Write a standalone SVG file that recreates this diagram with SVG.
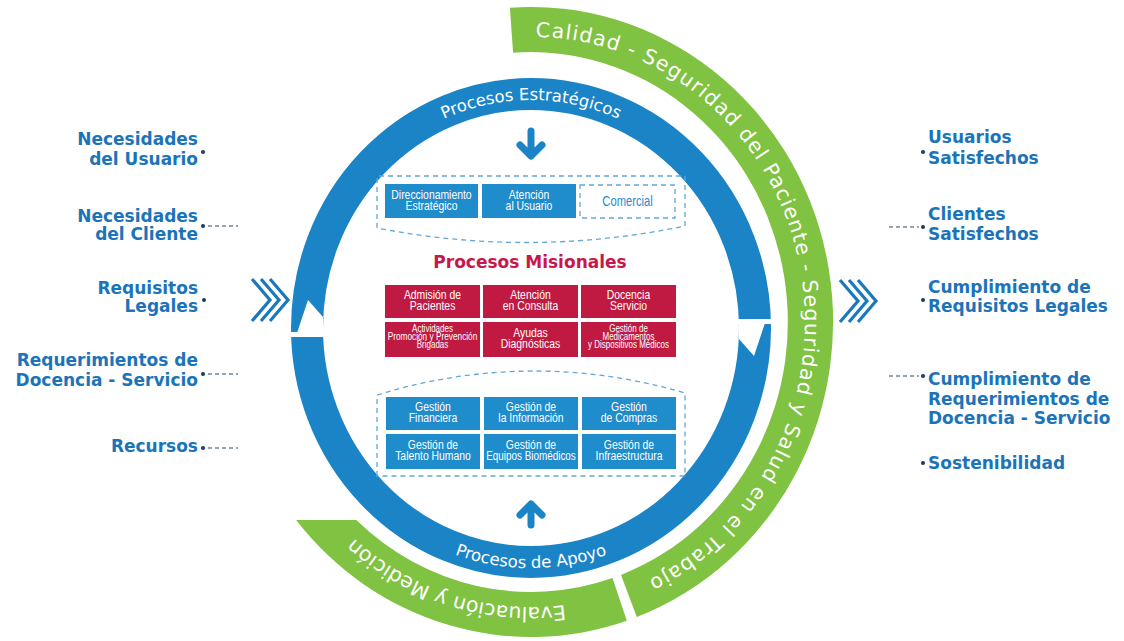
<svg xmlns="http://www.w3.org/2000/svg" width="1124" height="641" viewBox="0 0 1124 641">
<style>
.lbl{font-family:"DejaVu Sans","Liberation Sans",sans-serif;font-weight:bold;font-size:17px;fill:#1b74ba}
.lr{text-anchor:end}
.bx{font-family:"Liberation Sans",Arial,sans-serif;font-size:13px;fill:#fff;text-anchor:middle}
.sm{font-size:10px}
.blue{fill:#1f8ccc}
.red{fill:#c01a42}
.dash{fill:none;stroke:#5fa8d8;stroke-width:1.3;stroke-dasharray:5 4}
.ring{font-family:"DejaVu Sans","Liberation Sans",sans-serif;font-size:16.5px;fill:#fff}
.gt{font-family:"DejaVu Sans","Liberation Sans",sans-serif;font-size:20.5px;fill:#fff}
.dot{fill:#1d3a5c}
.lead{stroke:#2a4a6a;stroke-width:1.2;stroke-dasharray:4 3}
.chev{fill:none;stroke:#1a78bf;stroke-width:3.2}
.arr{fill:none;stroke:#1b84c7;stroke-width:7;stroke-linecap:round;stroke-linejoin:round}
</style>
<defs>
<path id="pTop" d="M342.2 214 A218 228 0 0 1 719.8 214"/>
<path id="pBot" d="M331.8 448 A230 240 0 0 0 730.2 448"/>
<path id="gBig" d="M535.7 37 A272 285 0 0 1 628 589"/>
<path id="gSmall" d="M606 596 A272 285 0 0 1 328.9 512.7"/>
</defs>
<rect width="1124" height="641" fill="#ffffff"/>

<g id="green-ring">
<path d="M509.9 7.8 A302 315 0 0 1 636.8 617.1 L621 574.9 A257 270 0 0 0 513.1 52.7 Z" fill="#80c241"/>
<path d="M626.8 620.7 A302 315 0 0 1 296.1 520 L356.3 520 A257 270 0 0 0 612.5 578 Z" fill="#80c241"/>
<text class="gt"><textPath href="#gBig" textLength="752" lengthAdjust="spacing">Calidad - Seguridad del Paciente - Seguridad y Salud en el Trabajo</textPath></text>
<text class="gt"><textPath href="#gSmall" startOffset="51%" text-anchor="middle">Evaluación y Medición</textPath></text>
</g>

<g id="blue-ring">
<ellipse cx="531" cy="328" rx="224" ry="234" fill="none" stroke="#1b84c7" stroke-width="32"/>
<rect x="284" y="332" width="46" height="5" fill="#fff"/>
<polygon points="297,333 308,300 323,317 323,333" fill="#fff"/>
<rect x="732" y="319" width="46" height="5" fill="#fff"/>
<polygon points="765,323 754,356 739,339 739,323" fill="#fff"/>
<text class="ring"><textPath href="#pTop" startOffset="50%" text-anchor="middle">Procesos Estratégicos</textPath></text>
<text class="ring"><textPath href="#pBot" startOffset="50%" text-anchor="middle">Procesos de Apoyo</textPath></text>
<path class="arr" d="M531 131 V155 M520 145 L531 156 L542 145"/>
<path class="arr" d="M531 525 V505 M520 515 L531 504 L542 515"/>
</g>

<g id="estrategicos">
<path class="dash" d="M377 228 V176 H685 V226 Q531 258 377 228"/>
<rect class="blue" x="385" y="184" width="93" height="34"/>
<g transform="translate(431.5 0) scale(0.8 1)"><text class="bx" x="0" y="199">Direccionamiento</text><text class="bx" x="0" y="210">Estratégico</text></g>
<rect class="blue" x="482" y="184" width="94" height="34"/>
<g transform="translate(529 0) scale(0.8 1)"><text class="bx" x="0" y="199">Atención</text><text class="bx" x="0" y="210">al Usuario</text></g>
<rect class="dash" x="580" y="185" width="95" height="33"/>
<g transform="translate(627.5 0) scale(0.8 1)"><text class="bx" x="0" y="206" style="fill:#1f8ccc;font-size:14px">Comercial</text></g>
</g>

<g id="misionales">
<text x="530" y="268" text-anchor="middle" style="font-family:'DejaVu Sans','Liberation Sans',sans-serif;font-weight:bold;font-size:17px;fill:#c8174b">Procesos Misionales</text>
<rect class="red" x="385" y="285" width="95" height="33"/>
<g transform="translate(432.5 0) scale(0.8 1)"><text class="bx" x="0" y="299">Admisión de</text><text class="bx" x="0" y="310">Pacientes</text></g>
<rect class="red" x="483" y="285" width="95" height="33"/>
<g transform="translate(530.5 0) scale(0.8 1)"><text class="bx" x="0" y="299">Atención</text><text class="bx" x="0" y="310">en Consulta</text></g>
<rect class="red" x="581" y="285" width="95" height="33"/>
<g transform="translate(628.5 0) scale(0.8 1)"><text class="bx" x="0" y="299">Docencia</text><text class="bx" x="0" y="310">Servicio</text></g>
<rect class="red" x="385" y="322" width="95" height="35"/>
<g transform="translate(432.5 0) scale(0.8 1)"><text class="bx sm" x="0" y="332">Actividades</text><text class="bx sm" x="0" y="340" textLength="112" lengthAdjust="spacingAndGlyphs">Promoción y Prevención</text><text class="bx sm" x="0" y="348">Brigadas</text></g>
<rect class="red" x="483" y="322" width="95" height="35"/>
<g transform="translate(530.5 0) scale(0.8 1)"><text class="bx" x="0" y="337">Ayudas</text><text class="bx" x="0" y="348">Diagnósticas</text></g>
<rect class="red" x="581" y="322" width="95" height="35"/>
<g transform="translate(628.5 0) scale(0.8 1)"><text class="bx sm" x="0" y="332">Gestión de</text><text class="bx sm" x="0" y="340">Medicamentos</text><text class="bx sm" x="0" y="348">y Dispositivos Médicos</text></g>
</g>

<g id="apoyo">
<path class="dash" d="M377 476 V395 Q531 348 685 393 V476 Z"/>
<rect class="blue" x="386" y="397" width="94" height="33"/>
<g transform="translate(433 0) scale(0.8 1)"><text class="bx" x="0" y="411">Gestión</text><text class="bx" x="0" y="422">Financiera</text></g>
<rect class="blue" x="484" y="397" width="94" height="33"/>
<g transform="translate(531 0) scale(0.8 1)"><text class="bx" x="0" y="411">Gestión de</text><text class="bx" x="0" y="422">la Información</text></g>
<rect class="blue" x="582" y="397" width="94" height="33"/>
<g transform="translate(629 0) scale(0.8 1)"><text class="bx" x="0" y="411">Gestión</text><text class="bx" x="0" y="422">de Compras</text></g>
<rect class="blue" x="386" y="434" width="94" height="35"/>
<g transform="translate(433 0) scale(0.8 1)"><text class="bx" x="0" y="449">Gestión de</text><text class="bx" x="0" y="460">Talento Humano</text></g>
<rect class="blue" x="484" y="434" width="94" height="35"/>
<g transform="translate(531 0) scale(0.8 1)"><text class="bx" x="0" y="449">Gestión de</text><text class="bx" x="0" y="460" textLength="112" lengthAdjust="spacingAndGlyphs">Equipos Biomédicos</text></g>
<rect class="blue" x="582" y="434" width="94" height="35"/>
<g transform="translate(629 0) scale(0.8 1)"><text class="bx" x="0" y="449">Gestión de</text><text class="bx" x="0" y="460">Infraestructura</text></g>
</g>

<g id="entradas">
<text class="lbl lr" x="198" y="145">Necesidades</text>
<text class="lbl lr" x="198" y="165">del Usuario</text>
<text class="lbl lr" x="198" y="222">Necesidades</text>
<text class="lbl lr" x="198" y="240">del Cliente</text>
<text class="lbl lr" x="198" y="294">Requisitos</text>
<text class="lbl lr" x="198" y="312">Legales</text>
<text class="lbl lr" x="198" y="366">Requerimientos de</text>
<text class="lbl lr" x="198" y="386">Docencia - Servicio</text>
<text class="lbl lr" x="198" y="452">Recursos</text>
</g>

<g id="salidas">
<text class="lbl" x="928" y="143">Usuarios</text>
<text class="lbl" x="928" y="164">Satisfechos</text>
<text class="lbl" x="928" y="220">Clientes</text>
<text class="lbl" x="928" y="240">Satisfechos</text>
<text class="lbl" x="928" y="293">Cumplimiento de</text>
<text class="lbl" x="928" y="312">Requisitos Legales</text>
<text class="lbl" x="928" y="385">Cumplimiento de</text>
<text class="lbl" x="928" y="405">Requerimientos de</text>
<text class="lbl" x="928" y="424">Docencia - Servicio</text>
<text class="lbl" x="928" y="469">Sostenibilidad</text>
</g>

<g id="connectors">
<circle class="dot" cx="203" cy="152" r="2"/>
<circle class="dot" cx="203" cy="226" r="2"/>
<circle class="dot" cx="204" cy="300" r="2"/>
<circle class="dot" cx="203" cy="374" r="2"/>
<circle class="dot" cx="203" cy="448" r="2"/>
<line class="lead" x1="208" y1="226" x2="238" y2="226"/>
<line class="lead" x1="208" y1="374" x2="238" y2="374"/>
<line class="lead" x1="208" y1="448" x2="238" y2="448"/>
<circle class="dot" cx="923" cy="152" r="2"/>
<circle class="dot" cx="923" cy="227" r="2"/>
<circle class="dot" cx="923" cy="300" r="2"/>
<circle class="dot" cx="923" cy="376" r="2"/>
<circle class="dot" cx="923" cy="463" r="2"/>
<line class="lead" x1="889" y1="227" x2="919" y2="227"/>
<line class="lead" x1="889" y1="376" x2="919" y2="376"/>
<path class="chev" d="M252 279 L270 300 L252 321 M261 279 L279 300 L261 321 M270 279 L288 300 L270 321"/>
<path class="chev" d="M840 280 L858 301 L840 322 M849 280 L867 301 L849 322 M858 280 L876 301 L858 322"/>
</g>
</svg>
